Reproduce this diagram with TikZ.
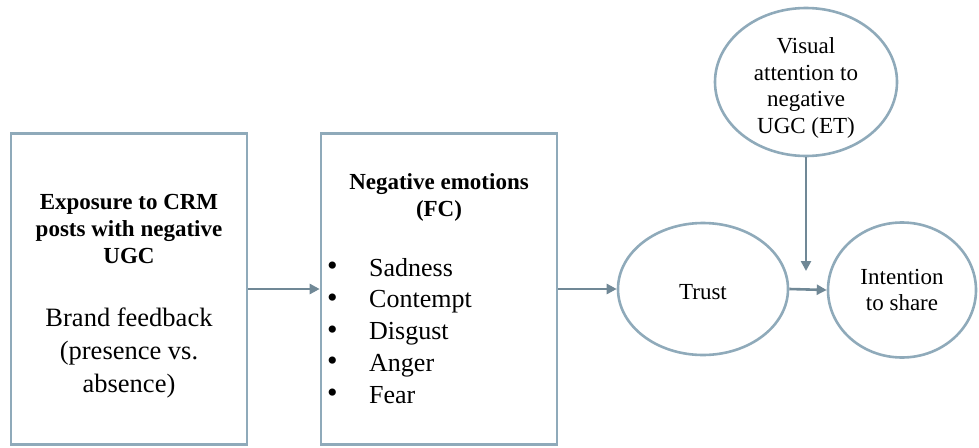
\documentclass[tikz,border=0pt]{standalone}
\usepackage{fontspec}
\setmainfont{Liberation Serif}
\usetikzlibrary{arrows.meta,shapes.geometric}
\definecolor{frame}{RGB}{143,170,186}
\definecolor{arr}{RGB}{112,136,150}
\tikzset{
  boxnode/.style={draw=frame,line width=2.6pt,rectangle,minimum width=236pt,minimum height=311pt,inner sep=0pt},
  ellnode/.style={draw=frame,line width=2.6pt,ellipse,inner sep=0pt,align=center,font=\fontsize{23}{25.5}\selectfont},
  txt/.style={align=center,inner sep=0pt},
  conn/.style={draw=arr,line width=2.6pt,-{Triangle[length=10pt,width=10pt]}}
}
\begin{document}
\begin{tikzpicture}[x=1pt,y=-1pt]
\useasboundingbox (0,0) rectangle (979,447);
% boxes
\node[boxnode] (b1) at (129,289) {};
\node[boxnode] (b2) at (439,289) {};
% box 1 texts
\node[txt,font=\fontsize{23}{27}\bfseries\selectfont] (b1h) at (129,229) {Exposure to CRM\\posts with negative\\UGC};
\node[txt,font=\fontsize{26.5}{33}\selectfont] (b1s) at (129,353) {Brand feedback\\(presence vs.\\absence)};
% box 2 texts
\node[txt,font=\fontsize{23}{27}\bfseries\selectfont] (b2h) at (439,197) {Negative emotions\\(FC)};
\node[txt,align=left,anchor=north west,font=\fontsize{30}{31.7}\selectfont] (b2b) at (327,262) {\textbullet\\\textbullet\\\textbullet\\\textbullet\\\textbullet};
\node[txt,align=left,anchor=north west,font=\fontsize{26}{31.7}\selectfont] (b2l) at (369,258) {Sadness\\Contempt\\Disgust\\Anger\\Fear};
% ellipses
\node[ellnode,minimum width=170pt,minimum height=132pt] (tr) at (703,289) {};
\node[txt,font=\fontsize{23}{25.5}\selectfont] (trt) at (703,292) {Trust};
\node[ellnode,minimum width=148pt,minimum height=135pt] (in) at (902,290) {Intention\\to share};
\node[ellnode,minimum width=182pt,minimum height=148pt] (vi) at (806,82) {};
\node[txt,font=\fontsize{23}{26.5}\selectfont] (vit) at (806,88) {Visual\\attention to\\negative\\UGC (ET)};
\coordinate (vend) at (806,271);
% connectors
\draw[conn] (b1.east) -- (b2.west);
\draw[conn] (b2.east) -- (tr.west);
\draw[conn] (tr.east) -- (in.west);
\draw[conn] (vi.south) -- (vend);
\end{tikzpicture}
\end{document}
